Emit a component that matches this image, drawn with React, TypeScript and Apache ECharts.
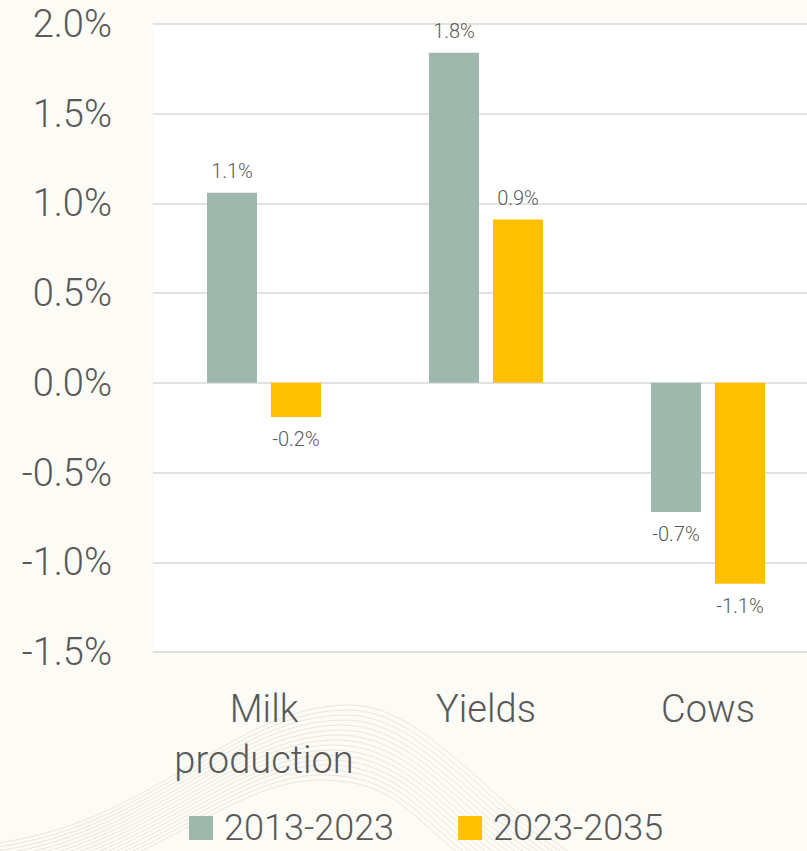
import React, { useEffect, useRef } from "react";
import * as echarts from "echarts";

const categories = ["Milk\nproduction", "Yields", "Cows"];
const seriesNames = ["2013-2023", "2023-2035"];
const values2013 = [1.06, 1.84, -0.72];
const values2023 = [-0.19, 0.91, -1.12];
const colors = ["#9fb8ae", "#ffc000"];

const TEXT = "#595959";
const FONT = "Roboto";

function buildWaves() {
  const items: any[] = [];
  for (let i = 0; i < 16; i++) {
    const px = 350 - i * 2;
    const py = 705 + i * 5;
    const style = { stroke: "#e7e6df", lineWidth: 1, fill: null };
    items.push({
      type: "bezierCurve",
      silent: true,
      z: -1,
      shape: { x1: -20, y1: 845 + i * 4, cpx1: 150, cpy1: 830 + i * 3, cpx2: 230, cpy2: py, x2: px, y2: py },
      style,
    });
    items.push({
      type: "bezierCurve",
      silent: true,
      z: -1,
      shape: { x1: px, y1: py, cpx1: px + 80, cpy1: py, cpx2: 500 - i * 6, cpy2: 820, x2: 600 - i * 8, y2: 870 },
      style,
    });
  }
  return items;
}

export default function App() {
  const ref = useRef<HTMLDivElement>(null);
  useEffect(() => {
    if (!ref.current) return;
    const chart = echarts.init(ref.current, null, { renderer: "svg" });
    const labelCommon = {
      show: true,
      color: TEXT,
      fontFamily: FONT,
      fontWeight: 300,
      fontSize: 20,
      distance: 12,
      formatter: (p: any) => p.value.toFixed(1) + "%",
    };
    const mkData = (vals: number[]) =>
      vals.map((v) => ({ value: v, label: { position: v >= 0 ? "top" : "bottom" } }));
    chart.setOption({
      animation: false,
      backgroundColor: "#fdfbf5",
      textStyle: { fontFamily: FONT },
      graphic: buildWaves(),
      grid: {
        left: 153,
        top: 24,
        width: 666,
        height: 628,
        show: true,
        backgroundColor: "#ffffff",
        borderWidth: 0,
        containLabel: false,
      },
      legend: {
        left: 189,
        top: 810,
        padding: 0,
        itemWidth: 24,
        itemHeight: 24,
        itemGap: 64,
        icon: "rect",
        data: seriesNames,
        textStyle: { color: TEXT, fontFamily: FONT, fontWeight: 300, fontSize: 36, padding: [0, 0, 0, 6] },
      },
      xAxis: {
        type: "category",
        data: categories,
        axisLine: { show: false },
        axisTick: { show: false },
        axisLabel: {
          color: TEXT,
          fontFamily: FONT,
          fontWeight: 300,
          fontSize: 38,
          lineHeight: 51,
          margin: 31,
          interval: 0,
        },
      },
      yAxis: {
        type: "value",
        min: -1.5,
        max: 2.0,
        interval: 0.5,
        axisLine: { show: false },
        axisTick: { show: false },
        splitLine: { lineStyle: { color: "#d9d9d9", width: 1.5 } },
        axisLabel: {
          color: TEXT,
          fontFamily: FONT,
          fontWeight: 300,
          fontSize: 38,
          margin: 41,
          formatter: (v: number) => v.toFixed(1) + "%",
        },
      },
      series: [
        {
          name: seriesNames[0],
          type: "bar",
          data: mkData(values2013),
          barWidth: 50,
          barGap: "28%",
          itemStyle: { color: colors[0] },
          label: labelCommon,
        },
        {
          name: seriesNames[1],
          type: "bar",
          data: mkData(values2023),
          barWidth: 50,
          itemStyle: { color: colors[1] },
          label: labelCommon,
        },
      ],
    });
    return () => chart.dispose();
  }, []);
  return (
    <div style={{ position: "absolute", left: 0, top: 0, width: 807, height: 851, overflow: "hidden" }}>
      <div ref={ref} style={{ width: 819, height: 851 }} />
    </div>
  );
}
